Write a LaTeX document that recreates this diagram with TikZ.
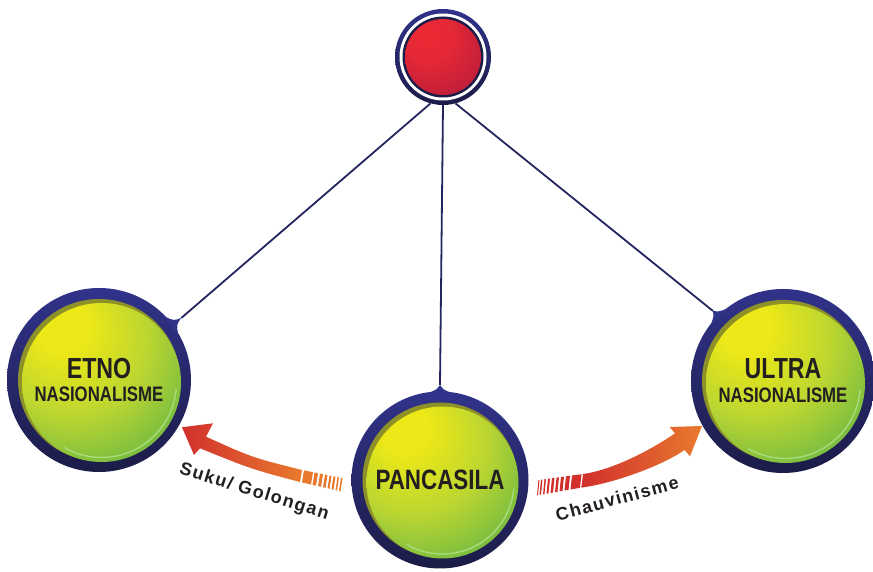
\documentclass[tikz,border=0pt]{standalone}
\usepackage{fontspec}
\setmainfont{Liberation Sans}
\newfontfamily\condfont[FakeStretch=0.8]{Liberation Sans}
\newfontfamily\armfont[LetterSpace=8]{Liberation Sans}

\definecolor{ringtop}{HTML}{30338A}
\definecolor{ringbot}{HTML}{1C1C48}
\definecolor{linenavy}{HTML}{23265E}
\definecolor{olivedark}{HTML}{8E9028}
\definecolor{limehi}{HTML}{EDE817}
\definecolor{limemid}{HTML}{BCD631}
\definecolor{limeedge}{HTML}{6CB843}
\definecolor{rimgreen}{HTML}{A8DC7A}
\definecolor{redhi}{HTML}{EC2A34}
\definecolor{redmid}{HTML}{C41F3A}
\definecolor{rededge}{HTML}{7A1F4E}
\definecolor{arrred}{HTML}{D1302C}
\definecolor{arrorange}{HTML}{E87A2E}
\definecolor{txtdark}{HTML}{231F20}

\pgfdeclareradialshading{limeshade}{\pgfpoint{-14bp}{20bp}}{color(0bp)=(limehi); color(8bp)=(limehi); color(24bp)=(limemid); color(40bp)=(limeedge); color(75bp)=(limeedge)}
\pgfdeclareradialshading{redshade}{\pgfpoint{-12bp}{16bp}}{color(0bp)=(redhi); color(16bp)=(redhi!80!redmid); color(34bp)=(redmid); color(46bp)=(rededge); color(75bp)=(rededge)}

\tikzset{
  conn/.style={linenavy, line width=1.8pt},
  armlabel/.style={font=\armfont\bfseries\fontsize{18}{20}\selectfont, text=txtdark, inner sep=0pt},
  topball/.style={circle, inner sep=0pt, outer sep=0pt, minimum size=96pt, top color=ringtop, bottom color=ringbot,
    path picture={
      \fill[white] (path picture bounding box.center) circle[radius=43.5pt];
      \fill[ringbot] (path picture bounding box.center) circle[radius=40.5pt];
      \shade[shading=redshade] (path picture bounding box.center) circle[radius=38pt];
    }},
  nasball/.style={circle, inner sep=0pt, outer sep=0pt, minimum size={2*#1*1pt}, top color=ringtop, bottom color=ringbot,
    text=txtdark, align=center, font=\condfont\bfseries,
    path picture={
      \fill[olivedark] (path picture bounding box.center) circle[radius={(#1-11)*1pt}];
      \shade[shading=limeshade] ([shift={(2.5pt,-2.5pt)}]path picture bounding box.center) circle[radius={(#1-12.5)*1pt}];
      \draw[rimgreen, line width=1.4pt] ([shift={(2.5pt,-2.5pt)}]path picture bounding box.center) ++(-5:{(#1-17)*1pt}) arc[start angle=-5, end angle=-120, radius={(#1-17)*1pt}];
    }}
}

\begin{document}
\begin{tikzpicture}[x=1pt,y=1pt]
	\useasboundingbox (0,0) rectangle (873,572);
	% balls
	\node[topball] (top) at (443,515) {};
	\node[nasball=92] (etno) at (99,192) {\fontsize{29}{29}\selectfont ETNO\\[8pt]\fontsize{21}{21}\selectfont NASIONALISME};
	\node[nasball=92] (ultra) at (783,191) {\fontsize{29}{29}\selectfont ULTRA\\[8pt]\fontsize{21}{21}\selectfont NASIONALISME};
	\node[nasball=88.5] (pancasila) at (440,92) {\fontsize{28}{30}\selectfont PANCASILA};
	% stubs
	\coordinate (etnotip) at ([shift={(37:103pt)}]etno.center);
	\coordinate (ultratip) at ([shift={(135:99pt)}]ultra.center);
	\coordinate (pancatip) at ([shift={(90:95pt)}]pancasila.center);
	\fill[ringtop] ([shift={(29:91pt)}]etno.center) .. controls ([shift={(35.5:95pt)}]etno.center) .. (etnotip) .. controls ([shift={(38.5:95pt)}]etno.center) .. ([shift={(45:91pt)}]etno.center) -- cycle;
	\fill[ringtop] ([shift={(127:91pt)}]ultra.center) .. controls ([shift={(133.5:95pt)}]ultra.center) .. (ultratip) .. controls ([shift={(136.5:95pt)}]ultra.center) .. ([shift={(143:91pt)}]ultra.center) -- cycle;
	\fill[ringtop] ([shift={(82:87.5pt)}]pancasila.center) .. controls ([shift={(88.5:91pt)}]pancasila.center) .. (pancatip) .. controls ([shift={(91.5:91pt)}]pancasila.center) .. ([shift={(98:87.5pt)}]pancasila.center) -- cycle;
	% connectors
	\draw[conn] (top.255) -- (etnotip);
	\draw[conn] (top.270) -- (pancatip);
	\draw[conn] (top.285) -- (ultratip);
	% arrows
	\shade[left color=arrred, right color=arrorange] (302,102) .. controls (252,114.5) .. (206,135.3) -- (213,148.7) -- (182,144.7) -- (194,117) -- (200,123.7) .. controls (251,103) .. (300,90) -- cycle;
	\foreach \a/\b in {304/313, 314.5/318, 320/323, 325/327.5, 329.5/331.5, 333.5/335.5, 337.5/339, 341/342.5}
		\fill[arrorange] (\a,{102-(\a-302)*0.2}) -- (\b,{102-(\b-302)*0.2}) -- ({\b-2},{90-(\b-2-300)*0.23}) -- ({\a-2},{90-(\a-2-300)*0.23}) -- cycle;
	\shade[left color=arrred, right color=arrorange] (583,98) .. controls (613,102) and (652,122.7) .. (675,138.7) -- (669.5,145) -- (702,146) -- (690,115.7) -- (684.6,122) .. controls (661.6,106) and (613,88.5) .. (581.5,84.4) -- cycle;
	\foreach \a/\b in {572/581.5, 566/570, 561/564, 556.5/559, 552/554.5, 548/550, 544.5/546, 541/542.5, 538.5/539.5}
		\fill[arrred] (\a,{92+(\a-539)*0.136}) -- (\b,{92+(\b-539)*0.136}) -- ({\b-1.5},{77+(\b-1.5-539)*0.175}) -- ({\a-1.5},{77+(\a-1.5-539)*0.175}) -- cycle;
	% labels
	\node[armlabel, rotate=-17.3] (suku) at (254,80) {Suku/ Golongan};
	\node[armlabel, rotate=15] (chauv) at (617,73.5) {Chauvinisme};
\end{tikzpicture}
\end{document}
